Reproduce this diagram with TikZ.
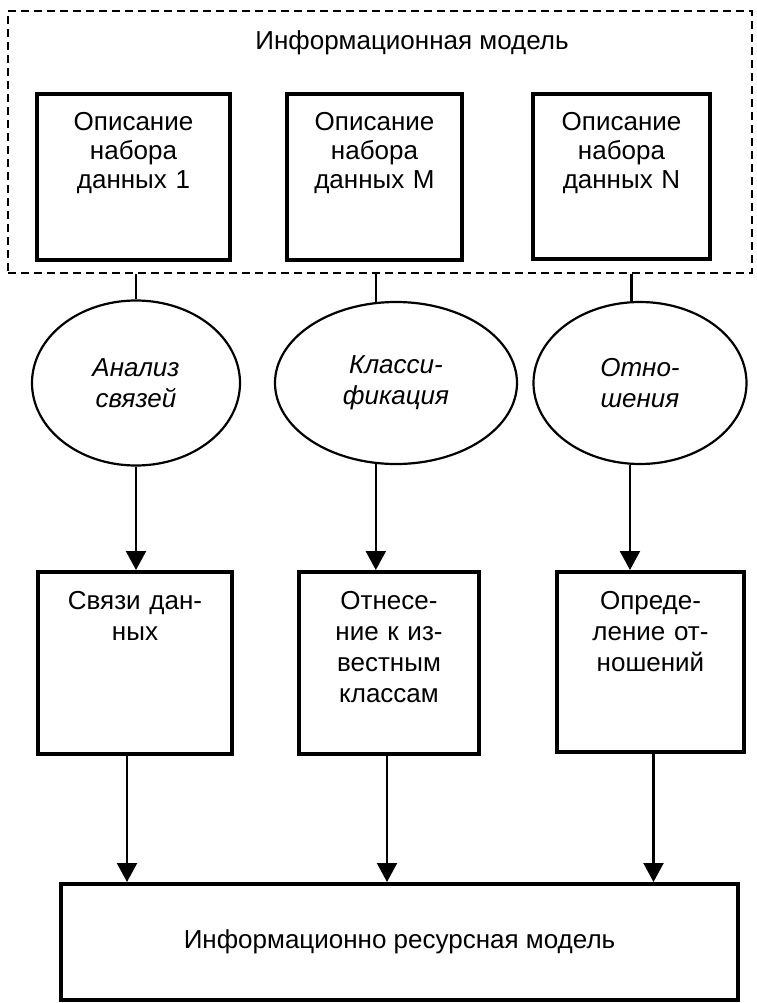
\documentclass[tikz,border=0pt]{standalone}
\usepackage{fontspec}
\setmainfont{Liberation Sans}
\usetikzlibrary{arrows.meta}
\usetikzlibrary{shapes.geometric}
\tikzset{t/.style={font=\fontsize{26}{29}\selectfont}}
\tikzset{tm/.style={font=\fontsize{26}{31}\selectfont}}
\tikzset{ti/.style={font=\fontsize{26}{31}\selectfont\itshape}}
\tikzset{bx/.style={draw, line width=4pt, inner sep=0pt, anchor=north, align=center}}
\tikzset{el/.style={draw, ellipse, line width=2.2pt, inner sep=0pt, align=center}}
\tikzset{ln/.style={line width=2.2pt}}
\tikzset{a/.style={line width=2.2pt, -{Triangle[length=19pt,width=20pt]}}}

\begin{document}
\begin{tikzpicture}[x=1pt,y=-1pt]
          \useasboundingbox (0,0) rectangle (756,1003);
          \node[draw, dash pattern=on 8pt off 5pt, line width=1.8pt, minimum width=744pt, minimum height=262pt] (info) at (380,142) {};
          \node[t] (infotitle) at (412,43) {Информационная модель};
          \node[bx, t, text width=193pt, text height=37pt, text depth=129pt] (d1) at (133.5,92) {Описание\\набора\\данных 1};
          \node[bx, t, text width=175pt, text height=37pt, text depth=129pt] (d2) at (374.5,92) {Описание\\набора\\данных M};
          \node[bx, t, text width=177pt, text height=37pt, text depth=128pt] (d3) at (621.5,92) {Описание\\набора\\данных N};
          \node[el, ti, minimum width=208pt, minimum height=165pt] (e1) at (136,383) {Анализ\\связей};
          \node[el, ti, minimum width=242pt, minimum height=162pt] (e2) at (396,383) {Класси-\\фикация};
          \node[el, ti, minimum width=213pt, minimum height=162pt] (e3) at (640,383) {Отно-\\шения};
          \node[bx, tm, text width=194pt, text height=37pt, text depth=145pt] (m1) at (135,570) {Связи дан-\\ных};
          \node[bx, tm, text width=180pt, text height=37pt, text depth=145pt] (m2) at (389,570) {Отнесе-\\ние к из-\\вестным\\классам};
          \node[bx, tm, text width=187pt, text height=37pt, text depth=143pt] (m3) at (650.5,570) {Опреде-\\ление от-\\ношений};
          \node[bx, t, anchor=center, minimum width=677pt, minimum height=116pt] (res) at (399.5,942) {Информационно ресурсная модель};
          % stubs and arrows
          \draw[ln] (e1.north) -- (e1.north |- info.south);
          \draw[ln] (e2.104.5) -- (e2.104.5 |- info.south);
          \draw[ln] (e3.96.3) -- (e3.96.3 |- info.south);
          \draw[a] (e1.south) -- (e1.south |- m1.north);
          \draw[a] (e2.256.2) -- (e2.256.2 |- m2.north);
          \draw[a] (e3.263.7) -- (e3.263.7 |- m3.north);
          \draw[a] ([xshift=-8pt]m1.south) -- ([xshift=-8pt]m1.south |- res.north);
          \draw[a] ([xshift=-2pt]m2.south) -- ([xshift=-2pt]m2.south |- res.north);
          \draw[a] ([xshift=3pt]m3.south) -- ([xshift=3pt]m3.south |- res.north);
        \end{tikzpicture}
\end{document}
